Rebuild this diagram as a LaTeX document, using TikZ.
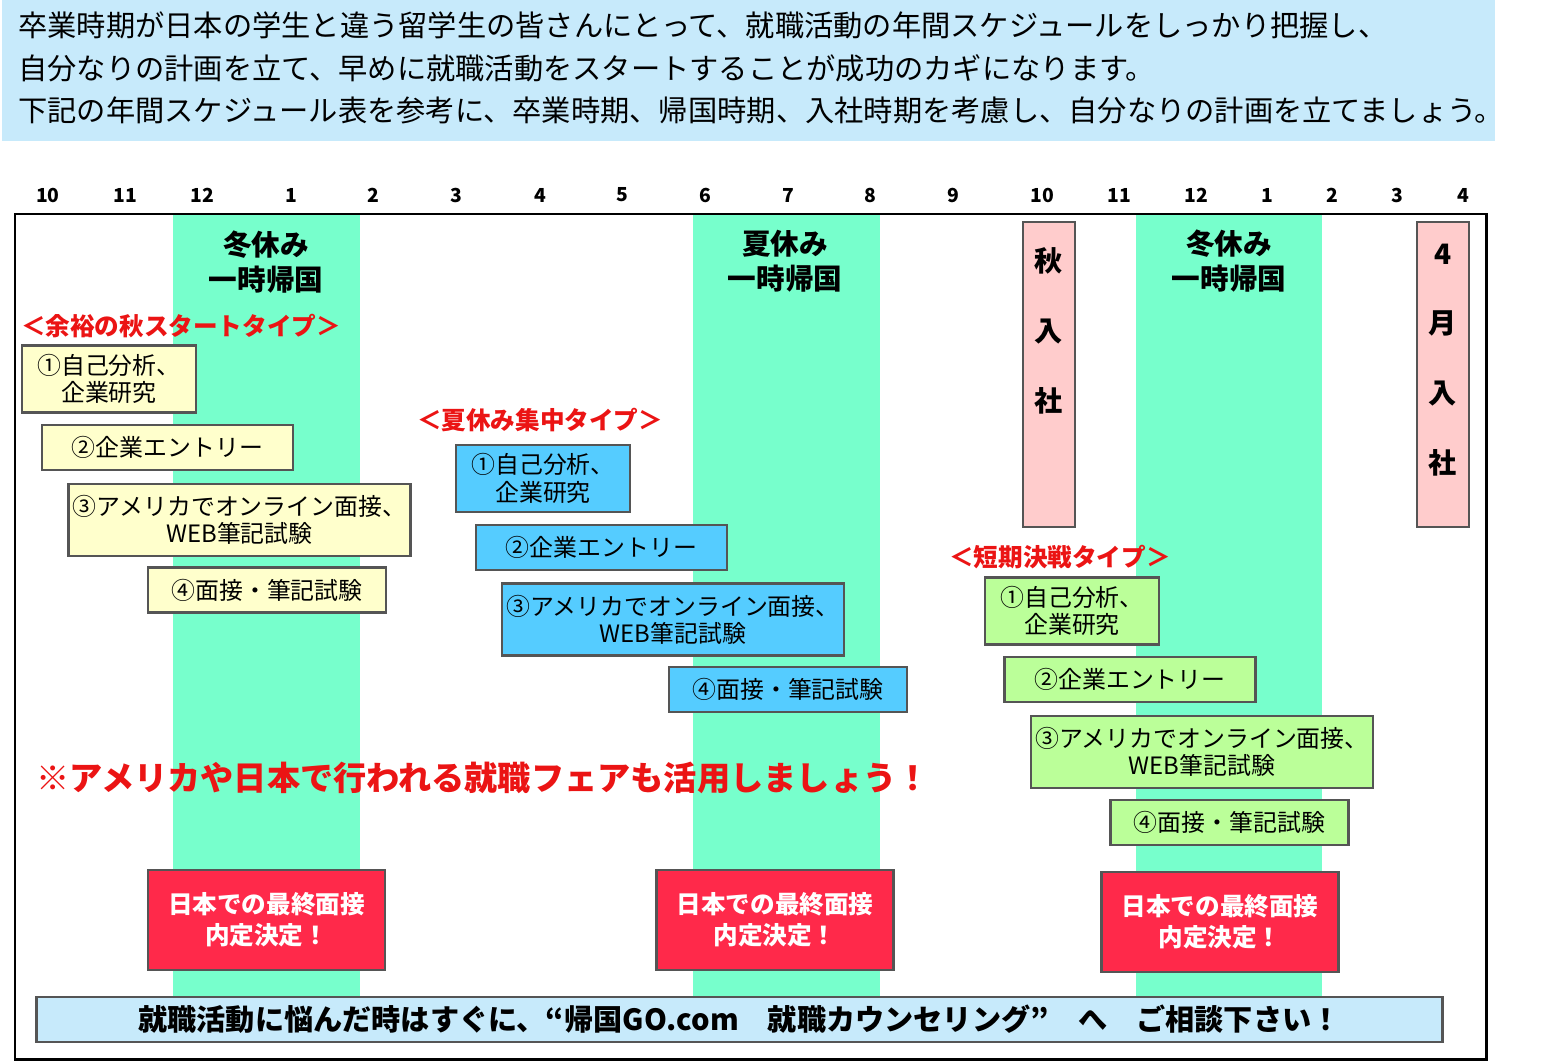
\documentclass[tikz,border=0pt]{standalone}
\usepackage{fontspec}
\setmainfont{Noto Sans CJK JP}
\usetikzlibrary{positioning}

\definecolor{bannerblue}{RGB}{199,234,251}
\definecolor{stripegreen}{RGB}{119,255,204}
\definecolor{taskyellow}{RGB}{255,255,204}
\definecolor{taskblue}{RGB}{85,204,255}
\definecolor{taskgreen}{RGB}{187,255,153}
\definecolor{joinpink}{RGB}{255,204,204}
\definecolor{finalred}{RGB}{255,41,74}
\definecolor{typered}{RGB}{235,20,20}
\definecolor{boxgray}{RGB}{85,85,85}

\begin{document}
\begin{tikzpicture}[
			x=0.02cm, y=-0.02cm,
			task/.style={
				draw=boxgray,
				line width=1.6pt,
				inner sep=0pt,
				align=center,
				font=\fontsize{13.6}{15.5}\selectfont
			},
			study/.style={task, minimum width=3.48cm, minimum height=1.34cm},
			entry/.style={task, minimum width=5.02cm, minimum height=0.9cm},
			online/.style={task, minimum width=6.84cm, minimum height=1.44cm},
			exam/.style={task, minimum width=4.76cm, minimum height=0.9cm},
			month/.style={font=\bfseries\fontsize{11}{13}\selectfont},
			holiday/.style={align=center, font=\bfseries\fontsize{16.3}{19.8}\selectfont},
			typelabel/.style={text=typered, font=\bfseries\fontsize{14}{16}\selectfont},
			joinbox/.style={draw=boxgray, line width=1.6pt, fill=joinpink,
				minimum width=1.04cm, minimum height=6.1cm, inner sep=0pt},
			jointext/.style={align=center, font=\bfseries\fontsize{16}{39.7}\selectfont},
			final/.style={
				draw=boxgray,
				line width=1.6pt,
				fill=finalred,
				text=white,
				minimum width=4.74cm,
				minimum height=2cm,
				align=center,
				font=\bfseries\fontsize{14}{17.6}\selectfont
			}
			]
			
			\useasboundingbox (0,0) rectangle (1546,1062);
			
			\fill[bannerblue] (2,0) rectangle (1495,141);
			\node[anchor=west, align=left, inner sep=0pt,
				font=\fontsize{16.65}{24}\selectfont] (intro) at (18,68)
			{卒業時期が日本の学生と違う留学生の皆さんにとって、就職活動の年間スケジュールをしっかり把握し、\\
				自分なりの計画を立て、早めに就職活動をスタートすることが成功のカギになります。\\
				下記の年間スケジュール表を参考に、卒業時期、帰国時期、入社時期を考慮し、自分なりの計画を立てましょう。};
			
			\foreach \x/\t [count=\i] in {48/10,125/11,202/12,291/1,373/2,456/3,540/4,622/5,705/6,
				788/7,870/8,953/9,1042/10,1119/11,1196/12,1267/1,1332/2,1397/3,1463/4}
			\node[month] (m\i) at (\x,195) {\t};
			
			\foreach \a/\b in {173/360,693/880,1136/1322}
			\fill[stripegreen] (\a,214) rectangle (\b,997);
			\draw[line width=1.7pt] (15,214) rectangle (1486,1059);
			
			\node[holiday] (winter1) at (266,262) {冬休み\\一時帰国};
			\node[holiday] (summer) at (785,261) {夏休み\\一時帰国};
			\node[holiday] (winter2) at (1229,261) {冬休み\\一時帰国};
			
			\node[joinbox] (aki) at (1049,374.5) {};
			\node[jointext] (akitxt) at (1049,331) {秋\\入\\社};
			\node[joinbox] (april) at (1443,374.5) {};
			\node[jointext] (apriltxt) at (1443,360) {4\\月\\入\\社};
			
			\node[typelabel] (autumn) at (181,326) {＜余裕の秋スタートタイプ＞};
			\node[study,fill=taskyellow] (y1) at (109,379) {①自己分析、\\企業研究};
			\node[entry,fill=taskyellow] (y2) at (167.5,447.5) {②企業エントリー};
			\node[online,fill=taskyellow] (y3) at (239.5,520) {③アメリカでオンライン面接、\\WEB筆記試験};
			\node[exam,fill=taskyellow] (y4) at (267,590) {④面接・筆記試験};
			
			\node[typelabel] (summertype) at (540,420) {＜夏休み集中タイプ＞};
			\node[study,fill=taskblue] (b1) at (543,478.5) {①自己分析、\\企業研究};
			\node[entry,fill=taskblue] (b2) at (601.5,547.5) {②企業エントリー};
			\node[online,fill=taskblue] (b3) at (673,619.5) {③アメリカでオンライン面接、\\WEB筆記試験};
			\node[exam,fill=taskblue] (b4) at (788,689.5) {④面接・筆記試験};
			
			\node[typelabel] (short) at (1060,557) {＜短期決戦タイプ＞};
			\node[study,fill=taskgreen] (g1) at (1072,611) {①自己分析、\\企業研究};
			\node[entry,fill=taskgreen] (g2) at (1130,679.5) {②企業エントリー};
			\node[online,fill=taskgreen] (g3) at (1202,752) {③アメリカでオンライン面接、\\WEB筆記試験};
			\node[exam,fill=taskgreen] (g4) at (1229.5,822.5) {④面接・筆記試験};
			
			\node[text=typered, font=\bfseries\fontsize{18.9}{22}\selectfont] (fair) at (483,778)
			{※アメリカや日本で行われる就職フェアも活用しましょう！};
			
			\node[final] (f1) at (266.5,920) {日本での最終面接\\内定決定！};
			\node[final] (f2) at (775,920) {日本での最終面接\\内定決定！};
			\node[final] (f3) at (1220,922) {日本での最終面接\\内定決定！};
			
			\node[draw=boxgray, line width=1.6pt, fill=bannerblue, minimum width=28.14cm,
				minimum height=0.9cm, inner sep=0pt, font=\bfseries\fontsize{16.6}{18}\selectfont]
			(consult) at (739.5,1019.5)
			{就職活動に悩んだ時はすぐに、“帰国GO.com　就職カウンセリング”　へ　ご相談下さい！};
			
		\end{tikzpicture}
\end{document}
